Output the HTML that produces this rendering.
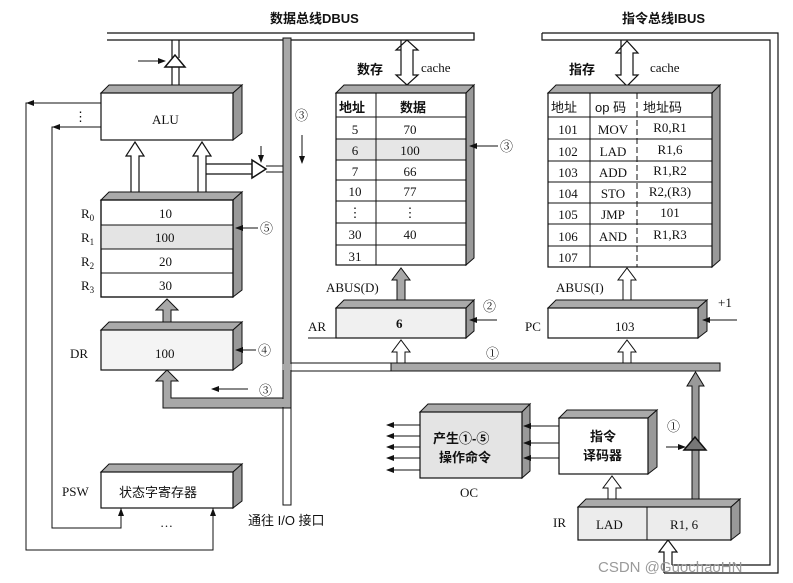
<!DOCTYPE html>
<html><head><meta charset="utf-8"><style>
html,body{margin:0;padding:0;background:#fff;}
svg{display:block;}
text{font-family:"Liberation Serif","Noto Serif CJK SC",serif;font-size:13px;fill:#111;}
.cj{font-family:"Liberation Sans","Noto Sans CJK SC",sans-serif;}
.b{font-weight:bold;}
</style></head><body>
<svg width="793" height="583" viewBox="0 0 793 583" xmlns="http://www.w3.org/2000/svg">
<defs>
<marker id="ah" markerWidth="8" markerHeight="6" refX="7" refY="3" orient="auto" markerUnits="userSpaceOnUse"><path d="M0,0 L8,3 L0,6 Z" fill="#111"/></marker>
</defs>
<text x="270" y="23" class="cj b" font-size="14">数据总线DBUS</text>
<text x="622" y="23" class="cj b" font-size="14">指令总线IBUS</text>

<path d="M107,33 H474 V40 H290 M283,40 H107 Z" fill="#fff" stroke="#111" stroke-width="1.3"/>
<rect x="283" y="38" width="8" height="370" fill="#a8a8a8" stroke="#111" stroke-width="1"/>
<rect x="283" y="408" width="8" height="97" fill="#fff" stroke="#111" stroke-width="1"/>
<rect x="291" y="363" width="429" height="8" fill="#a8a8a8" stroke="#111" stroke-width="1"/>
<rect x="291" y="363" width="100" height="8" fill="#fff" stroke="#111" stroke-width="1"/>
<rect x="282" y="364" width="10" height="6" fill="#a8a8a8"/>
<path d="M163,408 V381 H156 L167,370 L178,381 H171 V398 H283 V408 Z" fill="#a8a8a8" stroke="#111" stroke-width="1"/>
<rect x="281" y="399" width="4" height="8" fill="#a8a8a8"/>

<path d="M172,40 V58 M179,40 V58" stroke="#111" stroke-width="1.2"/>
<polygon points="165,67 175,55 185,67" fill="#fff" stroke="#111" stroke-width="1.5"/>
<path d="M172,67 V85 M179,67 V85" stroke="#111" stroke-width="1.2"/>
<line x1="138" y1="61" x2="165" y2="61" stroke="#111" marker-end="url(#ah)"/>

<polygon points="101,93 109,85 242,85 233,93" fill="#aaa" stroke="#111"/>
<polygon points="233,93 242,85 242,133 233,140" fill="#999" stroke="#111"/>
<rect x="101" y="93" width="132" height="47" fill="#fff" stroke="#111" stroke-width="1.2"/>
<text x="152" y="124">ALU</text>
<text x="74" y="121" font-size="13">⋮</text>
<path d="M101,103 H26 V550 H213 V508" stroke="#111" fill="none"/>
<path d="M101,127 H52 V528 H121 V508" stroke="#111" fill="none"/>
<polygon points="26,103 34,100 34,106" fill="#111"/>
<polygon points="52,127 60,124 60,130" fill="#111"/>
<polygon points="121,508 118,516 124,516" fill="#111"/>
<polygon points="213,508 210,516 216,516" fill="#111"/>
<text x="160" y="527">…</text>

<path d="M131,195 V156 H126 L135,142 L144,156 H139 V195 Z" fill="#fff" stroke="#111" stroke-width="1.2"/>
<path d="M198,195 V156 H193 L202,142 L211,156 H206 V195 Z" fill="#fff" stroke="#111" stroke-width="1.2"/>
<path d="M206,164 H252 M206,174 H252" stroke="#111" stroke-width="1.2"/>
<polygon points="252,160 266,169 252,178" fill="#fff" stroke="#111" stroke-width="1.5"/>
<path d="M266,166 H283 M266,172 H283" stroke="#111" stroke-width="1"/>
<line x1="261" y1="146" x2="261" y2="162" stroke="#111" marker-end="url(#ah)"/>
<text x="295" y="120" font-size="14">③</text>
<line x1="302" y1="135" x2="302" y2="163" stroke="#111" marker-end="url(#ah)"/>

<polygon points="101,200 109,192 242,192 233,200" fill="#aaa" stroke="#111"/>
<polygon points="233,200 242,192 242,290 233,297" fill="#999" stroke="#111"/>
<rect x="101" y="200" width="132" height="97" fill="#fff" stroke="#111" stroke-width="1.2"/>
<rect x="101" y="225" width="132" height="24" fill="#e4e4e4"/>
<path d="M101,225 H233 M101,249 H233 M101,273 H233" stroke="#111"/>
<rect x="101" y="200" width="132" height="97" fill="none" stroke="#111" stroke-width="1.2"/>
<text x="81" y="218">R<tspan font-size="9" dy="3">0</tspan></text>
<text x="81" y="242">R<tspan font-size="9" dy="3">1</tspan></text>
<text x="81" y="266">R<tspan font-size="9" dy="3">2</tspan></text>
<text x="81" y="290">R<tspan font-size="9" dy="3">3</tspan></text>
<text x="159" y="218">10</text>
<text x="155" y="242">100</text>
<text x="159" y="266">20</text>
<text x="159" y="290">30</text>
<line x1="258" y1="228" x2="236" y2="228" stroke="#111" marker-end="url(#ah)"/>
<text x="260" y="233" font-size="14">⑤</text>

<path d="M163,322 V310 H156 L167,299 L178,310 H171 V322 Z" fill="#a8a8a8" stroke="#111"/>
<polygon points="101,330 109,322 242,322 233,330" fill="#aaa" stroke="#111"/>
<polygon points="233,330 242,322 242,363 233,370" fill="#999" stroke="#111"/>
<rect x="101" y="330" width="132" height="40" fill="#f4f4f4" stroke="#111" stroke-width="1.2"/>
<text x="70" y="358">DR</text>
<text x="155" y="358">100</text>
<line x1="256" y1="350" x2="236" y2="350" stroke="#111" marker-end="url(#ah)"/>
<text x="258" y="355" font-size="14">④</text>
<line x1="248" y1="389" x2="212" y2="389" stroke="#111" marker-end="url(#ah)"/>
<text x="259" y="395" font-size="14">③</text>

<polygon points="101,472 109,464 242,464 233,472" fill="#aaa" stroke="#111"/>
<polygon points="233,472 242,464 242,501 233,508" fill="#999" stroke="#111"/>
<rect x="101" y="472" width="132" height="36" fill="#fff" stroke="#111" stroke-width="1.2"/>
<text x="62" y="496">PSW</text>
<text x="119" y="497" class="cj">状态字寄存器</text>
<text x="248" y="525" class="cj">通往 I/O 接口</text>

<path d="M401,40 V50 H396 L407,40 L418,50 H413 V75 H418 L407,85 L396,75 H401 Z" fill="#fff" stroke="#111" stroke-width="1.2"/>
<path d="M401,50 V75 M413,50 V75" stroke="#111"/>
<text x="357" y="74" class="cj b">数存</text>
<text x="421" y="72">cache</text>
<polygon points="336,93 344,85 474,85 466,93" fill="#aaa" stroke="#111"/>
<polygon points="466,93 474,85 474,258 466,265" fill="#999" stroke="#111"/>
<rect x="336" y="139" width="130" height="21" fill="#e6e6e6"/>
<rect x="336" y="93" width="130" height="172" fill="none" stroke="#111" stroke-width="1.2"/>
<path d="M376,93 V265 M336,117 H466 M336,139 H466 M336,160 H466 M336,180 H466 M336,201 H466 M336,223 H466 M336,245 H466" stroke="#111"/>
<text x="339" y="112" class="cj b">地址</text>
<text x="400" y="112" class="cj b">数据</text>
<g text-anchor="middle">
<text x="355" y="134">5</text><text x="410" y="134">70</text>
<text x="355" y="155">6</text><text x="410" y="155">100</text>
<text x="355" y="176">7</text><text x="410" y="176">66</text>
<text x="355" y="196">10</text><text x="410" y="196">77</text>
<text x="355" y="217">⋮</text><text x="410" y="217">⋮</text>
<text x="355" y="239">30</text><text x="410" y="239">40</text>
<text x="355" y="261">31</text>
</g>
<line x1="498" y1="146" x2="470" y2="146" stroke="#111" marker-end="url(#ah)"/>
<text x="500" y="151" font-size="14">③</text>

<path d="M397,305 V280 H392 L401,268 L410,280 H405 V305 Z" fill="#a8a8a8" stroke="#111"/>
<text x="326" y="292">ABUS(D)</text>
<polygon points="336,308 344,300 474,300 466,308" fill="#aaa" stroke="#111"/>
<polygon points="466,308 474,300 474,331 466,338" fill="#999" stroke="#111"/>
<rect x="336" y="308" width="130" height="30" fill="#f0f0f0" stroke="#111" stroke-width="1.2"/>
<path d="M308,338 H336" stroke="#111"/>
<text x="308" y="331">AR</text>
<text x="396" y="328" class="b">6</text>
<line x1="497" y1="320" x2="470" y2="320" stroke="#111" marker-end="url(#ah)"/>
<text x="483" y="311" font-size="14">②</text>
<path d="M397,363 V352 H392 L401,340 L410,352 H405 V363 Z" fill="#fff" stroke="#111"/>
<text x="486" y="358" font-size="14">①</text>

<path d="M542,33 H778 V573 H664 M542,33 V40 H770 V565 H672" fill="none" stroke="#111" stroke-width="1.2"/>
<path d="M664,573 V552 H659 L668,540 L677,552 H672 V565" fill="#fff" stroke="#111" stroke-width="1.2"/>
<path d="M621,40 V53 H616 L627,41 L638,53 H633 V75 H638 L627,86 L616,75 H621 Z" fill="#fff" stroke="#111" stroke-width="1.2"/>
<path d="M621,53 V75 M633,53 V75" stroke="#111"/>
<text x="569" y="74" class="cj b">指存</text>
<text x="650" y="72">cache</text>

<polygon points="548,93 556,85 720,85 712,93" fill="#aaa" stroke="#111"/>
<polygon points="712,93 720,85 720,260 712,267" fill="#999" stroke="#111"/>
<rect x="548" y="93" width="164" height="174" fill="#fff" stroke="#111" stroke-width="1.2"/>
<path d="M590,93 V267 M548,117 H712 M548,139 H712 M548,161 H712 M548,182 H712 M548,203 H712 M548,224 H712 M548,246 H712" stroke="#111"/>
<path d="M637,93 V267" stroke="#111" stroke-dasharray="6,3"/>
<text x="551" y="112" class="cj">地址</text>
<text x="595" y="112" class="cj">op 码</text>
<text x="643" y="112" class="cj">地址码</text>
<g text-anchor="middle">
<text x="568" y="134">101</text><text x="613" y="134">MOV</text><text x="670" y="132">R0,R1</text>
<text x="568" y="156">102</text><text x="613" y="156">LAD</text><text x="670" y="154">R1,6</text>
<text x="568" y="177">103</text><text x="613" y="177">ADD</text><text x="670" y="175">R1,R2</text>
<text x="568" y="198">104</text><text x="613" y="198">STO</text><text x="670" y="196">R2,(R3)</text>
<text x="568" y="219">105</text><text x="613" y="219">JMP</text><text x="670" y="217">101</text>
<text x="568" y="241">106</text><text x="613" y="241">AND</text><text x="670" y="239">R1,R3</text>
<text x="568" y="262">107</text>
</g>

<path d="M623,300 V280 H618 L627,268 L636,280 H631 V300 Z" fill="#fff" stroke="#111"/>
<text x="556" y="292">ABUS(I)</text>
<polygon points="548,308 556,300 707,300 698,308" fill="#aaa" stroke="#111"/>
<polygon points="698,308 707,300 707,331 698,338" fill="#999" stroke="#111"/>
<rect x="548" y="308" width="150" height="30" fill="#fff" stroke="#111" stroke-width="1.2"/>
<text x="525" y="331">PC</text>
<text x="615" y="331">103</text>
<text x="718" y="307" font-size="12">+1</text>
<line x1="737" y1="320" x2="703" y2="320" stroke="#111" marker-end="url(#ah)"/>
<path d="M623,363 V352 H618 L627,340 L636,352 H631 V363 Z" fill="#fff" stroke="#111"/>

<polygon points="420,412 428,404 530,404 522,412" fill="#aaa" stroke="#111"/>
<polygon points="522,412 530,404 530,471 522,478" fill="#999" stroke="#111"/>
<rect x="420" y="412" width="102" height="66" fill="#e4e4e4" stroke="#111" stroke-width="1.2"/>
<text x="433" y="443" class="cj b" font-size="14">产生①-⑤</text>
<text x="439" y="462" class="cj b" font-size="14">操作命令</text>
<text x="460" y="497">OC</text>
<g stroke="#111">
<line x1="420" y1="425" x2="387" y2="425" marker-end="url(#ah)"/>
<line x1="420" y1="436" x2="387" y2="436" marker-end="url(#ah)"/>
<line x1="420" y1="447" x2="387" y2="447" marker-end="url(#ah)"/>
<line x1="420" y1="458" x2="387" y2="458" marker-end="url(#ah)"/>
<line x1="420" y1="470" x2="387" y2="470" marker-end="url(#ah)"/>
<line x1="559" y1="426" x2="524" y2="426" marker-end="url(#ah)"/>
<line x1="559" y1="443" x2="524" y2="443" marker-end="url(#ah)"/>
<line x1="559" y1="458" x2="524" y2="458" marker-end="url(#ah)"/>
</g>

<polygon points="559,418 567,410 657,410 648,418" fill="#aaa" stroke="#111"/>
<polygon points="648,418 657,410 657,467 648,474" fill="#999" stroke="#111"/>
<rect x="559" y="418" width="89" height="56" fill="#fff" stroke="#111" stroke-width="1.2"/>
<text x="590" y="441" class="cj b" font-size="14">指令</text>
<text x="583" y="460" class="cj b" font-size="14">译码器</text>
<path d="M608,500 V488 H603 L612,476 L621,488 H616 V500 Z" fill="#fff" stroke="#111"/>

<path d="M692,504 V386 H687 L695.5,372 L704,386 H699 V504 Z" fill="#999" stroke="#111"/>
<polygon points="684,450 695,437 706,450" fill="#777" stroke="#111" stroke-width="1.5"/>
<line x1="666" y1="447" x2="685" y2="447" stroke="#111" marker-end="url(#ah)"/>
<text x="667" y="431" font-size="14">①</text>

<polygon points="578,507 586,499 740,499 731,507" fill="#aaa" stroke="#111"/>
<polygon points="731,507 740,499 740,533 731,540" fill="#999" stroke="#111"/>
<rect x="578" y="507" width="153" height="33" fill="#ececec" stroke="#111" stroke-width="1.2"/>
<line x1="647" y1="507" x2="647" y2="540" stroke="#111"/>
<text x="553" y="527">IR</text>
<text x="596" y="529">LAD</text>
<text x="670" y="529">R1, 6</text>

<text x="598" y="572" style="fill:#9a9a9a;font-family:'Liberation Sans',sans-serif;font-size:15px">CSDN @GuochaoHN</text>
</svg>
</body></html>
